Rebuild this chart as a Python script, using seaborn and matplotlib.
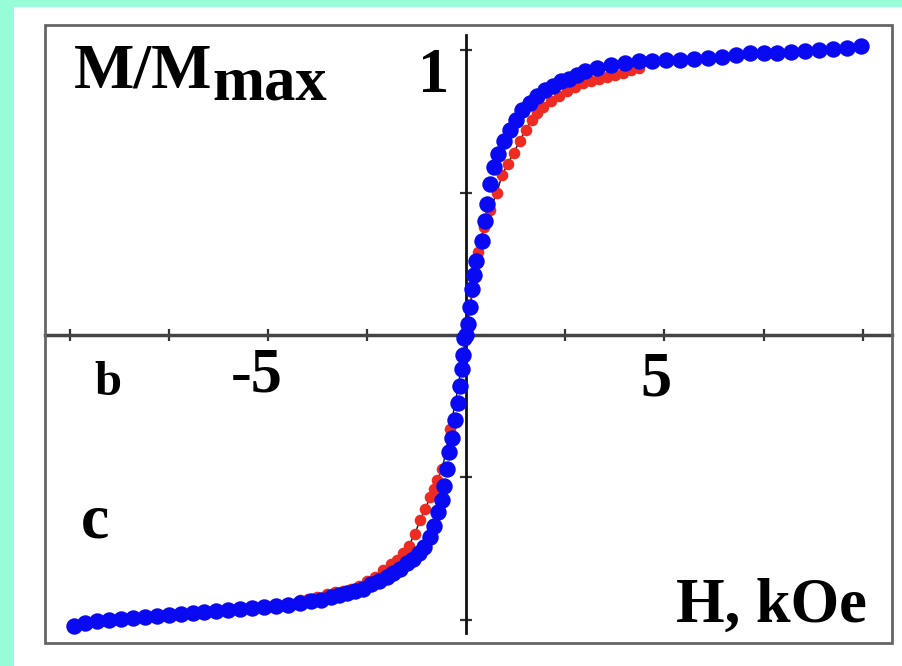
import numpy as np
import pandas as pd
import matplotlib
matplotlib.use("Agg")
import matplotlib.pyplot as plt
from matplotlib.patches import Rectangle
import seaborn as sns

# blue curve: full sweep, H in kOe, M/Mmax
blue_h = [-9.9, -9.6, -9.3, -9.0, -8.7, -8.4, -8.1, -7.8, -7.5, -7.2, -6.9, -6.6,
          -6.3, -6.0, -5.7, -5.4, -5.1, -4.8, -4.5, -4.2, -3.9, -3.65, -3.4, -3.2,
          -3.0, -2.8, -2.6, -2.4, -2.2, -2.0, -1.85, -1.68, -1.5, -1.35, -1.2, -1.05,
          -0.92, -0.8, -0.7, -0.62, -0.55, -0.48, -0.43, -0.35, -0.27, -0.2, -0.15,
          -0.1, -0.08, -0.05, 0.0, 0.05, 0.1, 0.15, 0.2, 0.25, 0.4, 0.48, 0.52, 0.6,
          0.7, 0.8, 0.95, 1.1, 1.25, 1.42, 1.6, 1.8, 2.0, 2.2, 2.4, 2.6, 2.8, 3.0,
          3.3, 3.65, 4.0, 4.35, 4.7, 5.05, 5.4, 5.75, 6.1, 6.45, 6.8, 7.15, 7.5,
          7.85, 8.2, 8.55, 8.9, 9.25, 9.6, 9.95]
blue_m = [-1.02, -1.01, -1.005, -1.0, -0.996, -0.993, -0.99, -0.985, -0.982, -0.98,
          -0.976, -0.973, -0.97, -0.965, -0.96, -0.957, -0.954, -0.95, -0.947, -0.94,
          -0.935, -0.93, -0.92, -0.913, -0.905, -0.9, -0.89, -0.875, -0.862, -0.849,
          -0.837, -0.82, -0.8, -0.785, -0.765, -0.745, -0.71, -0.67, -0.62, -0.58,
          -0.53, -0.47, -0.41, -0.36, -0.30, -0.24, -0.18, -0.12, -0.07, -0.01, 0.0,
          0.04, 0.1, 0.16, 0.21, 0.26, 0.33, 0.40, 0.46, 0.53, 0.59, 0.635, 0.68,
          0.72, 0.755, 0.79, 0.815, 0.84, 0.86, 0.875, 0.89, 0.90, 0.912, 0.925,
          0.937, 0.947, 0.954, 0.96, 0.962, 0.965, 0.966, 0.968, 0.973, 0.977, 0.982,
          0.988, 0.99, 0.99, 0.992, 0.996, 1.0, 1.003, 1.008, 1.015]

# red curve
red_h = [-4.2, -4.0, -3.75, -3.5, -3.3, -3.1, -2.9, -2.7, -2.5, -2.3, -2.1, -1.9,
         -1.75, -1.6, -1.45, -1.3, -1.16, -1.03, -0.91, -0.82, -0.73, -0.6, -0.4,
         -0.2, 0.0, 0.15, 0.3, 0.45, 0.6, 0.78, 0.9, 1.05, 1.2, 1.35, 1.5, 1.65, 1.8,
         1.95, 2.15, 2.35, 2.55, 2.75, 2.95, 3.15, 3.35, 3.55, 3.75, 3.95, 4.15, 4.35]
red_m = [-0.93, -0.925, -0.918, -0.91, -0.903, -0.897, -0.89, -0.88, -0.865, -0.848,
         -0.825, -0.805, -0.79, -0.765, -0.74, -0.70, -0.65, -0.61, -0.57, -0.54,
         -0.51, -0.47, -0.33, -0.18, 0.0, 0.15, 0.29, 0.38, 0.44, 0.50, 0.56, 0.60,
         0.64, 0.68, 0.72, 0.755, 0.78, 0.80, 0.82, 0.838, 0.855, 0.87, 0.884, 0.893,
         0.90, 0.907, 0.913, 0.92, 0.93, 0.937]

x_ticks = [-10, -7.5, -5, -2.5, 2.5, 5, 7.5, 10]
y_ticks = [-1, -0.5, 0.5, 1]

blue = pd.DataFrame({'H': blue_h, 'M': blue_m})
red = pd.DataFrame({'H': red_h, 'M': red_m})

sns.set_style("white")
plt.rcParams['font.family'] = ['Liberation Serif', 'DejaVu Serif']

W, Hpx = 903, 666
fig = plt.figure(figsize=(W / 100, Hpx / 100), dpi=100, facecolor='#98FCD8')
fig.patches.append(Rectangle((14 / W, 0), 1, 1 - 7 / Hpx, transform=fig.transFigure,
                             facecolor='white', edgecolor='none', zorder=-5))

ax = fig.add_axes([45 / W, 1 - 643 / Hpx, (892 - 45) / W, (643 - 25) / Hpx])
ax.set_facecolor('white')
ax.set_xlim(-10.62, 10.74)
ax.set_ylim(-1.081, 1.088)

# crossing axes through the origin
ax.spines['top'].set_visible(False)
ax.spines['right'].set_visible(False)
ax.spines['left'].set_position(('data', 0))
ax.spines['bottom'].set_position(('data', 0))
ax.spines['left'].set_bounds(-1.046, 1.053)
ax.spines['left'].set_color('#111111')
ax.spines['left'].set_linewidth(2)
ax.spines['bottom'].set_color('#444444')
ax.spines['bottom'].set_linewidth(2.5)
ax.set_xticks(x_ticks)
ax.set_yticks(y_ticks)
ax.tick_params(bottom=True, left=True, direction='inout', length=8, width=1.6,
               color='#333333', labelbottom=False, labelleft=False)

# outer frame
ax.add_patch(Rectangle((0, 0), 1, 1, transform=ax.transAxes, fill=False,
                       edgecolor='#666666', linewidth=2, clip_on=False, zorder=5))

ax.plot(red['H'], red['M'], color='#111111', linewidth=1, zorder=2)
sns.scatterplot(data=red, x='H', y='M', color='#EE2B22', s=70, linewidth=0,
                ax=ax, zorder=3)
sns.scatterplot(data=blue, x='H', y='M', color='#0A0AF2', s=140, linewidth=0,
                ax=ax, zorder=4)
ax.set_xlabel('')
ax.set_ylabel('')


def fx(x, y):
    return x / W, 1 - y / Hpx


bold = dict(fontweight='bold', color='black', va='baseline')
fig.text(*fx(74, 87), 'M/M', fontsize=46, ha='left', **bold)
fig.text(*fx(212, 100), 'max', fontsize=45, ha='left', **bold)
fig.text(*fx(434, 92), '1', fontsize=45, ha='center', **bold)
fig.text(*fx(231, 392), '-5', fontsize=45, ha='left', **bold)
fig.text(*fx(656, 396), '5', fontsize=45, ha='center', **bold)
fig.text(*fx(94, 395), 'b', fontsize=35, ha='left', **bold)
fig.text(*fx(81, 537), 'c', fontsize=46, ha='left', **bold)
fig.text(*fx(676, 622), 'H, kOe', fontsize=45, ha='left', **bold)

fig.savefig('out.png', dpi=100, facecolor=fig.get_facecolor())
